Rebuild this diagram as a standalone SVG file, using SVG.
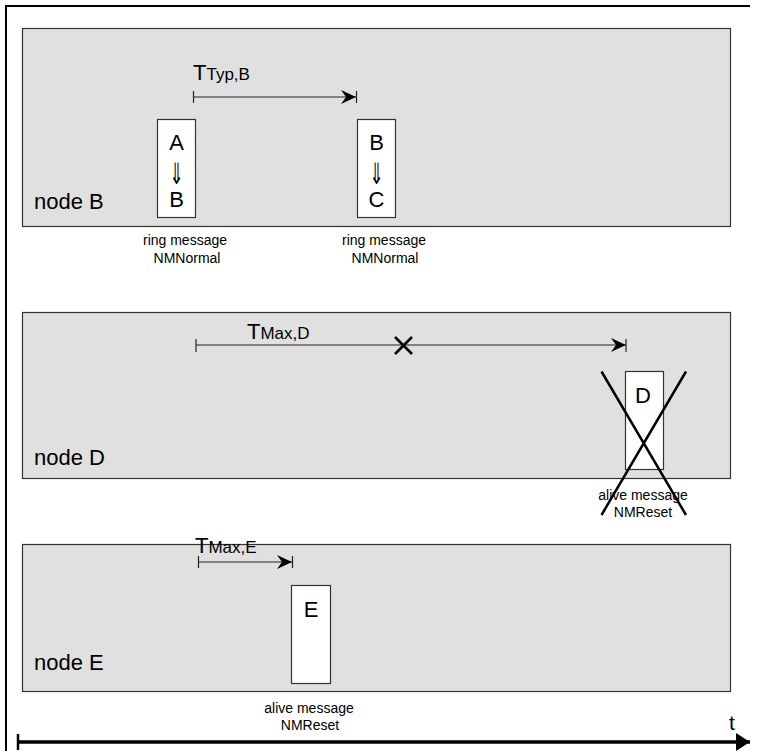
<svg xmlns="http://www.w3.org/2000/svg" width="761" height="751" viewBox="0 0 761 751">
<style>
.panel{fill:#e0e0e0;stroke:#333;stroke-width:1.2}
.msg{fill:#fff;stroke:#333;stroke-width:1.2}
text{font-family:"Liberation Sans","DejaVu Sans",Arial,sans-serif;fill:#000}
.big{font-size:22px}
.arr{font-family:"DejaVu Sans",sans-serif;font-size:28px;fill:#000}
.lbl{font-size:22px}
.small{font-size:14px}
.ln{stroke:#222;stroke-width:1.2;fill:none}
.cross{stroke:#000;stroke-width:2.5;fill:none}
</style>
<defs>
<marker id="ah" markerWidth="16" markerHeight="14" refX="15" refY="7" orient="auto" markerUnits="userSpaceOnUse">
<path d="M0,0 L15,7 L0,14 L5,7 Z" fill="#000"/>
</marker>
<marker id="axh" markerWidth="16" markerHeight="18" refX="14" refY="9" orient="auto" markerUnits="userSpaceOnUse">
<path d="M0,0 L14,9 L0,18 Z" fill="#000"/>
</marker>
</defs>
<!-- frame -->
<line x1="6" y1="6" x2="750" y2="6" stroke="#000" stroke-width="2"/>
<line x1="6" y1="5" x2="6" y2="751" stroke="#000" stroke-width="2"/>

<g id="nodeB">
<rect class="panel" x="22.5" y="28.5" width="708" height="198"/>
<text class="lbl" x="34" y="209">node B</text>
</g>
<g id="nodeD">
<rect class="panel" x="22.5" y="312.5" width="708" height="166"/>
<text class="lbl" x="34" y="465">node D</text>
</g>
<g id="nodeE">
<rect class="panel" x="22.5" y="544.5" width="708" height="147"/>
<text class="lbl" x="34" y="670">node E</text>
</g>

<g id="msgAB">
<rect class="msg" x="157.5" y="119.5" width="38" height="98"/>
<text class="big" x="176.5" y="150" text-anchor="middle">A</text>
<text class="arr" text-anchor="middle" transform="translate(176.5,184) scale(0.6,1.05)">⇓</text>
<text class="big" x="176.5" y="207" text-anchor="middle">B</text>
<text class="small" x="185" y="245" text-anchor="middle">ring message</text>
<text class="small" x="187" y="263" text-anchor="middle">NMNormal</text>
</g>
<g id="msgBC">
<rect class="msg" x="357.5" y="119.5" width="38" height="98"/>
<text class="big" x="376.5" y="150" text-anchor="middle">B</text>
<text class="arr" text-anchor="middle" transform="translate(376.5,184) scale(0.6,1.05)">⇓</text>
<text class="big" x="376.5" y="207" text-anchor="middle">C</text>
<text class="small" x="384" y="245" text-anchor="middle">ring message</text>
<text class="small" x="385" y="263" text-anchor="middle">NMNormal</text>
</g>
<g id="msgD">
<rect class="msg" x="625.5" y="371.5" width="38" height="98"/>
<text class="big" x="643" y="403" text-anchor="middle">D</text>
<text class="small" x="643" y="500" text-anchor="middle">alive message</text>
<text class="small" x="643" y="517" text-anchor="middle">NMReset</text>
</g>
<g id="msgE">
<rect class="msg" x="291.5" y="585.5" width="39" height="98"/>
<text class="big" x="311" y="617" text-anchor="middle">E</text>
<text class="small" x="309" y="713" text-anchor="middle">alive message</text>
<text class="small" x="310" y="730" text-anchor="middle">NMReset</text>
</g>

<g id="labels">
<text x="193" y="80"><tspan style="font-size:22px">T</tspan><tspan style="font-size:17px">Typ,B</tspan></text>
<text x="247" y="339"><tspan style="font-size:22px">T</tspan><tspan style="font-size:17px">Max,D</tspan></text>
<text x="195" y="553"><tspan style="font-size:22px">T</tspan><tspan style="font-size:17px">Max,E</tspan></text>
<text x="729" y="730" style="font-size:21px">t</text>
</g>

<g id="connectors">
<line class="ln" x1="193.5" y1="97" x2="356" y2="97" marker-end="url(#ah)"/>
<line class="ln" x1="193.5" y1="91" x2="193.5" y2="103"/>
<line class="ln" x1="356.5" y1="91" x2="356.5" y2="103"/>

<line class="ln" x1="196" y1="345" x2="626" y2="345" marker-end="url(#ah)"/>
<line class="ln" x1="196" y1="339" x2="196" y2="352"/>
<line class="ln" x1="626" y1="339" x2="626" y2="352"/>
<path class="cross" d="M395,337 L412,354 M412,337 L395,354"/>

<line class="ln" x1="198.5" y1="562" x2="292" y2="562" marker-end="url(#ah)"/>
<line class="ln" x1="198.5" y1="556" x2="198.5" y2="568"/>
<line class="ln" x1="292.5" y1="556" x2="292.5" y2="568"/>

<path class="cross" d="M601.5,371.5 L686,515 M686,371.5 L601.5,515" stroke-width="2.2"/>

<line x1="18" y1="742" x2="750" y2="742" stroke="#000" stroke-width="3.5" marker-end="url(#axh)"/>
<line x1="18" y1="734" x2="18" y2="750" stroke="#000" stroke-width="2.5"/>
</g>
</svg>
